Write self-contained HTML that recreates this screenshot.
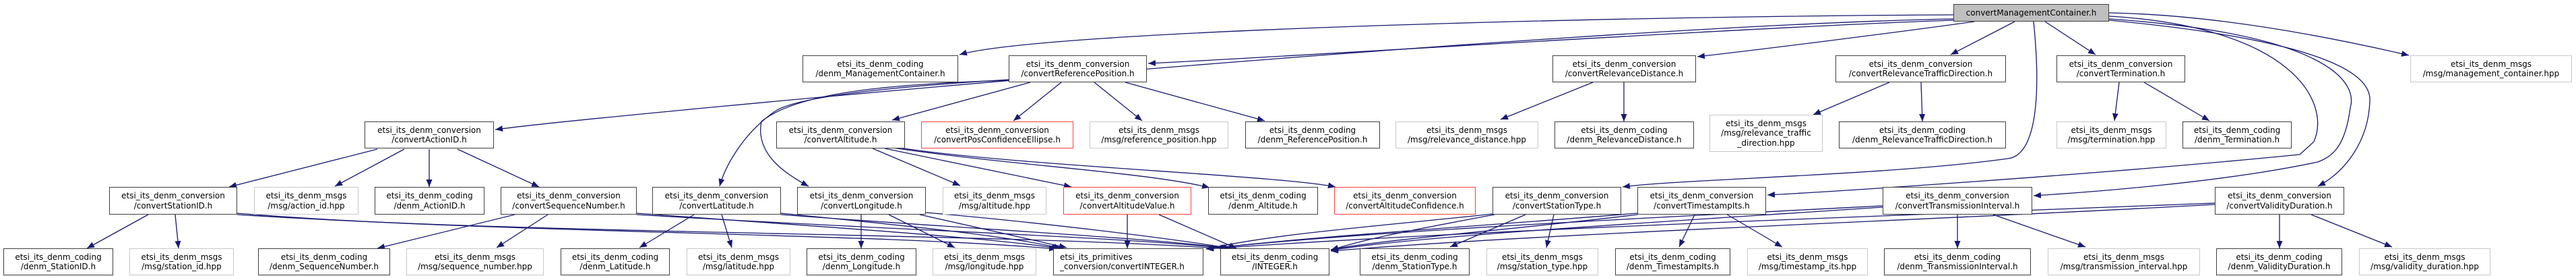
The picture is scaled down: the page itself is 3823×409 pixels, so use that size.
<!DOCTYPE html>
<html><head><meta charset="utf-8"><style>
html,body{margin:0;padding:0;background:#fff;}
#c{position:relative;width:3823px;height:409px;overflow:hidden;font-family:"DejaVu Sans","Liberation Sans",sans-serif;font-size:12px;color:#000;}
.n{position:absolute;box-sizing:border-box;border:1.5px solid #404040;background:#fff;display:flex;flex-direction:column;justify-content:center;align-items:center;line-height:14.5px;white-space:nowrap;text-align:center;}
.g{border-color:#c8c8c8;}
.r{border-color:#ff4040;}
.root{background:#bfbfbf;}
.l{align-items:flex-start;padding-left:9px;text-align:left;}
svg{position:absolute;left:0;top:0;}
</style></head><body><div id="c">
<svg width="3823" height="409" viewBox="0 0 3823 409">
<defs><marker id="a" markerUnits="userSpaceOnUse" markerWidth="12" markerHeight="10" refX="11" refY="4.5" orient="auto"><path d="M0,0 L11,4.5 L0,9 z" fill="#191970"/></marker></defs>
<g fill="none" stroke="#191970" stroke-width="1.3" marker-end="url(#a)">
<path d="M2899,22 C2400,24 1550,45 1424,81"/>
<path d="M2899,28 C2300,40 900,170 735,192"/>
<path d="M2899,30 C2600,40 1900,85 1704,94"/>
<path d="M2930,32 C2800,50 2600,75 2519,84"/>
<path d="M2990,32 L2895,81"/>
<path d="M3035,32 L3110,81"/>
<path d="M3130,19 C3300,22 3480,60 3575,82"/>
<path d="M3018,32 C3030,150 3020,230 2980,235 C2800,260 2500,265 2408,277"/>
<path d="M3130,24 C3400,40 3460,150 3434,210 L3413,229 C3100,260 2700,285 2623,289"/>
<path d="M3130,28 C3450,50 3500,120 3488,160 C3480,220 3460,232 3440,240 C3300,270 3100,285 3018,290"/>
<path d="M3130,30 C3450,60 3520,110 3517,150 C3515,210 3480,255 3440,276"/>
<path d="M1529,122 L1324,178"/>
<path d="M1575,122 L1504,179"/>
<path d="M1624,122 L1695,179"/>
<path d="M1670,122 L1877,179"/>
<path d="M1497,118 C1300,130 1180,145 1150,165 C1100,200 1075,250 1068,276"/>
<path d="M1497,119 C1300,125 1180,140 1130,180 C1120,230 1170,260 1200,276"/>
<path d="M560,221 L340,277"/>
<path d="M600,221 L497,276"/>
<path d="M637,221 L637,277"/>
<path d="M679,221 L800,277"/>
<path d="M220,318 L129,368"/>
<path d="M260,318 L265,368"/>
<path d="M352,316 C700,345 1300,345 1568,369"/>
<path d="M352,318 C800,348 1500,345 1822,369"/>
<path d="M764,318 L560,368"/>
<path d="M813,318 L737,367"/>
<path d="M945,316 C1200,335 1450,350 1572,368"/>
<path d="M945,318 C1300,340 1650,350 1822,368"/>
<path d="M1030,318 L949,367"/>
<path d="M1071,318 L1086,367"/>
<path d="M1159,316 C1350,335 1500,350 1575,368"/>
<path d="M1159,318 C1450,340 1700,352 1824,368"/>
<path d="M1278,318 L1278,368"/>
<path d="M1319,318 L1417,367"/>
<path d="M1365,318 L1583,367"/>
<path d="M1374,315 C1550,330 1750,355 1826,368"/>
<path d="M1295,220 L1425,275"/>
<path d="M1313,220 L1590,277"/>
<path d="M1325,219 C1500,245 1700,255 1795,278"/>
<path d="M1335,219 C1500,245 1900,260 1982,277"/>
<path d="M1673,318 L1673,368"/>
<path d="M1720,318 L1835,368"/>
<path d="M2364,122 L2227,177"/>
<path d="M2410,122 L2410,180"/>
<path d="M2804,122 L2691,170"/>
<path d="M2851,122 L2853,180"/>
<path d="M3145,122 L3138,179"/>
<path d="M3182,122 L3279,179"/>
<path d="M2215,317 C2050,335 1900,345 1790,369"/>
<path d="M2218,318 C2100,340 2020,355 1975,371"/>
<path d="M2264,318 L2152,366"/>
<path d="M2306,318 L2295,367"/>
<path d="M2515,318 L2492,366"/>
<path d="M2560,316 L2645,366"/>
<path d="M2430,316 C2200,335 1950,350 1790,369"/>
<path d="M2430,318 C2250,340 2050,355 1975,370"/>
<path d="M2905,318 L2905,368"/>
<path d="M2958,318 L3095,366"/>
<path d="M2794,305 C2400,325 2000,345 1790,369"/>
<path d="M2794,307 C2450,330 2100,350 1975,371"/>
<path d="M3383,318 L3383,368"/>
<path d="M3430,318 L3550,366"/>
<path d="M3287,301 C2800,320 2200,340 1790,369"/>
<path d="M3287,303 C2900,325 2300,345 1975,372"/>
</g></svg>

<div class="n root" style="left:2899px;top:6px;width:231px;height:26px;">convertManagementContainer.h</div>

<div class="n" style="left:1191px;top:82px;width:231px;height:40px;">etsi_its_denm_coding<br>/denm_ManagementContainer.h</div>
<div class="n" style="left:1497px;top:82px;width:205px;height:40px;">etsi_its_denm_conversion<br>/convertReferencePosition.h</div>
<div class="n" style="left:2304px;top:82px;width:213px;height:40px;">etsi_its_denm_conversion<br>/convertRelevanceDistance.h</div>
<div class="n" style="left:2724px;top:82px;width:253px;height:40px;">etsi_its_denm_conversion<br>/convertRelevanceTrafficDirection.h</div>
<div class="n" style="left:3052px;top:82px;width:191px;height:40px;">etsi_its_denm_conversion<br>/convertTermination.h</div>
<div class="n g" style="left:3577px;top:82px;width:240px;height:40px;">etsi_its_denm_msgs<br>/msg/management_container.hpp</div>

<div class="n" style="left:541px;top:180px;width:192px;height:40px;">etsi_its_denm_conversion<br>/convertActionID.h</div>
<div class="n" style="left:1152px;top:180px;width:191px;height:40px;">etsi_its_denm_conversion<br>/convertAltitude.h</div>
<div class="n r" style="left:1367px;top:180px;width:226px;height:40px;">etsi_its_denm_conversion<br>/convertPosConfidenceEllipse.h</div>
<div class="n g" style="left:1617px;top:180px;width:206px;height:40px;">etsi_its_denm_msgs<br>/msg/reference_position.hpp</div>
<div class="n" style="left:1848px;top:180px;width:200px;height:40px;">etsi_its_denm_coding<br>/denm_ReferencePosition.h</div>
<div class="n g" style="left:2071px;top:180px;width:212px;height:40px;">etsi_its_denm_msgs<br>/msg/relevance_distance.hpp</div>
<div class="n" style="left:2307px;top:180px;width:207px;height:40px;">etsi_its_denm_coding<br>/denm_RelevanceDistance.h</div>
<div class="n g" style="left:2537px;top:170px;width:168px;height:55px;">etsi_its_denm_msgs<br>/msg/relevance_traffic<br>_direction.hpp</div>
<div class="n" style="left:2729px;top:180px;width:248px;height:40px;">etsi_its_denm_coding<br>/denm_RelevanceTrafficDirection.h</div>
<div class="n g" style="left:3052px;top:180px;width:163px;height:40px;">etsi_its_denm_msgs<br>/msg/termination.hpp</div>
<div class="n" style="left:3239px;top:180px;width:162px;height:40px;">etsi_its_denm_coding<br>/denm_Termination.h</div>

<div class="n" style="left:162px;top:277px;width:190px;height:41px;">etsi_its_denm_conversion<br>/convertStationID.h</div>
<div class="n g" style="left:377px;top:277px;width:155px;height:41px;">etsi_its_denm_msgs<br>/msg/action_id.hpp</div>
<div class="n" style="left:556px;top:277px;width:163px;height:41px;">etsi_its_denm_coding<br>/denm_ActionID.h</div>
<div class="n" style="left:743px;top:277px;width:202px;height:41px;">etsi_its_denm_conversion<br>/convertSequenceNumber.h</div>
<div class="n" style="left:968px;top:277px;width:191px;height:41px;">etsi_its_denm_conversion<br>/convertLatitude.h</div>
<div class="n" style="left:1183px;top:277px;width:191px;height:41px;">etsi_its_denm_conversion<br>/convertLongitude.h</div>
<div class="n g" style="left:1399px;top:277px;width:154px;height:41px;">etsi_its_denm_msgs<br>/msg/altitude.hpp</div>
<div class="n r" style="left:1578px;top:277px;width:190px;height:41px;">etsi_its_denm_conversion<br>/convertAltitudeValue.h</div>
<div class="n" style="left:1793px;top:277px;width:163px;height:41px;">etsi_its_denm_coding<br>/denm_Altitude.h</div>
<div class="n r" style="left:1980px;top:277px;width:210px;height:41px;">etsi_its_denm_conversion<br>/convertAltitudeConfidence.h</div>
<div class="n" style="left:2215px;top:277px;width:191px;height:41px;">etsi_its_denm_conversion<br>/convertStationType.h</div>
<div class="n" style="left:2430px;top:277px;width:191px;height:41px;">etsi_its_denm_conversion<br>/convertTimestampIts.h</div>
<div class="n" style="left:2794px;top:277px;width:222px;height:41px;">etsi_its_denm_conversion<br>/convertTransmissionInterval.h</div>
<div class="n" style="left:3287px;top:277px;width:192px;height:41px;">etsi_its_denm_conversion<br>/convertValidityDuration.h</div>

<div class="n" style="left:5px;top:368px;width:163px;height:40px;">etsi_its_denm_coding<br>/denm_StationID.h</div>
<div class="n g" style="left:192px;top:368px;width:155px;height:40px;">etsi_its_denm_msgs<br>/msg/station_id.hpp</div>
<div class="n" style="left:383px;top:368px;width:196px;height:40px;">etsi_its_denm_coding<br>/denm_SequenceNumber.h</div>
<div class="n g" style="left:603px;top:368px;width:204px;height:40px;">etsi_its_denm_msgs<br>/msg/sequence_number.hpp</div>
<div class="n" style="left:832px;top:368px;width:162px;height:40px;">etsi_its_denm_coding<br>/denm_Latitude.h</div>
<div class="n g" style="left:1019px;top:368px;width:154px;height:40px;">etsi_its_denm_msgs<br>/msg/latitude.hpp</div>
<div class="n" style="left:1197px;top:368px;width:163px;height:40px;">etsi_its_denm_coding<br>/denm_Longitude.h</div>
<div class="n g" style="left:1384px;top:368px;width:154px;height:40px;">etsi_its_denm_msgs<br>/msg/longitude.hpp</div>
<div class="n l" style="left:1563px;top:368px;width:223px;height:40px;">etsi_its_primitives<br>_conversion/convertINTEGER.h</div>
<div class="n" style="left:1811px;top:368px;width:162px;height:40px;">etsi_its_denm_coding<br>/INTEGER.h</div>
<div class="n" style="left:2018px;top:368px;width:163px;height:40px;">etsi_its_denm_coding<br>/denm_StationType.h</div>
<div class="n g" style="left:2206px;top:368px;width:166px;height:40px;">etsi_its_denm_msgs<br>/msg/station_type.hpp</div>
<div class="n" style="left:2397px;top:368px;width:171px;height:40px;">etsi_its_denm_coding<br>/denm_TimestampIts.h</div>
<div class="n g" style="left:2593px;top:368px;width:179px;height:40px;">etsi_its_denm_msgs<br>/msg/timestamp_its.hpp</div>
<div class="n" style="left:2796px;top:368px;width:218px;height:40px;">etsi_its_denm_coding<br>/denm_TransmissionInterval.h</div>
<div class="n g" style="left:3039px;top:368px;width:226px;height:40px;">etsi_its_denm_msgs<br>/msg/transmission_interval.hpp</div>
<div class="n" style="left:3289px;top:368px;width:187px;height:40px;">etsi_its_denm_coding<br>/denm_ValidityDuration.h</div>
<div class="n g" style="left:3501px;top:368px;width:195px;height:40px;">etsi_its_denm_msgs<br>/msg/validity_duration.hpp</div>
</div></body></html>
